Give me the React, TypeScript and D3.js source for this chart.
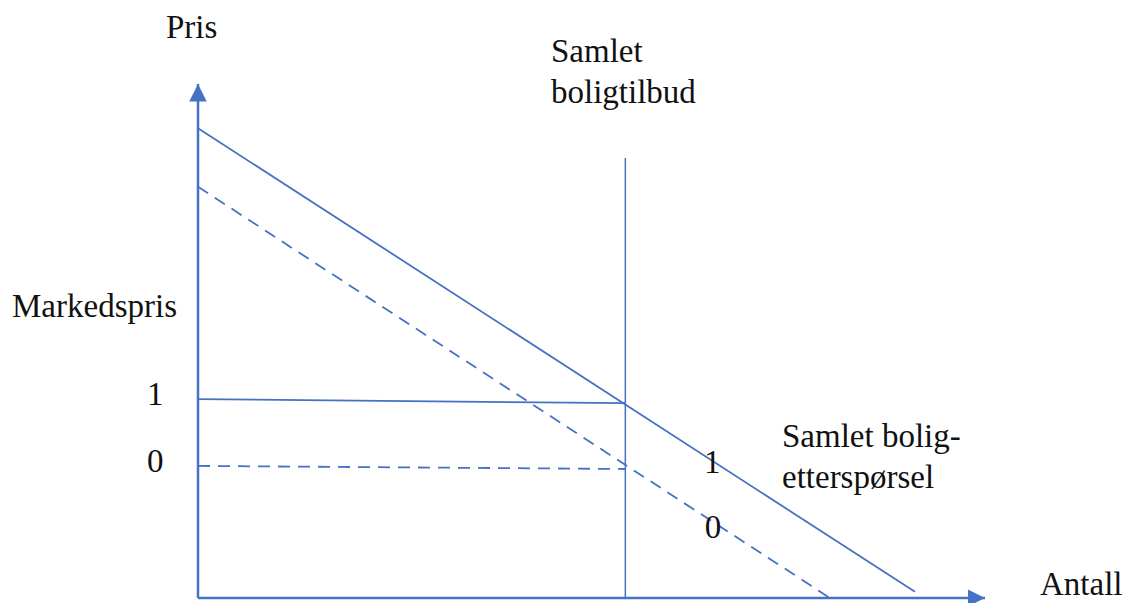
import React from "react";
import * as d3 from "d3";

// Data (abstract units: x 0..100 quantity, y 0..100 price)
const supplyX = 54.3;
const supplyTop = 85.6;
const demand1 = [ { x: 0, y: 91.4 }, { x: 91.1, y: 1.2 } ];
const demand0 = [ { x: 0, y: 80.0 }, { x: 80.3, y: 0 } ];
const price1 = [ { x: 0, y: 38.7 }, { x: 54.3, y: 37.9 } ];
const price0 = [ { x: 0, y: 25.7 }, { x: 54.3, y: 25.1 } ];
const yTickLabels = [ { label: "1", y: 38.7 }, { label: "0", y: 25.7 } ];
const curveLabels = [ { label: "1", x: 64.3, y: 24.3 }, { label: "0", x: 64.4, y: 11.7 } ];

const W = 1125, H = 603;
const x = d3.scaleLinear().domain([0, 100]).range([198, 985]);
const y = d3.scaleLinear().domain([0, 100]).range([598, 84]);
const BLUE = "#4472C4";
const FS = 33;

function T({ x: tx, y: ty, children }: { x: number; y: number; children: React.ReactNode }) {
  return (
    <text x={tx} y={ty} fontFamily="Liberation Serif" fontSize={FS} fill="#111">{children}</text>
  );
}

export default function App() {
  const line = d3.line<{ x: number; y: number }>().x(d => x(d.x)).y(d => y(d.y));
  return (
    <svg width={W} height={H} style={{ position: "absolute", left: 0, top: 0, background: "#fff" }}>
      <defs>
        <marker id="arr" viewBox="0 0 10 10" refX="10" refY="5" markerWidth="7" markerHeight="7" markerUnits="strokeWidth" orient="auto">
          <path d="M0,0 L10,5 L0,10 Z" fill={BLUE} />
        </marker>
      </defs>
      {/* axes */}
      <line x1={x(0)} y1={y(0)} x2={x(0)} y2={y(100)} stroke={BLUE} strokeWidth={2.5} markerEnd="url(#arr)" />
      <line x1={x(0)} y1={y(0)} x2={x(100)} y2={y(0)} stroke={BLUE} strokeWidth={2.5} markerEnd="url(#arr)" />
      {/* supply */}
      <line x1={x(supplyX)} y1={y(0)} x2={x(supplyX)} y2={y(supplyTop)} stroke={BLUE} strokeWidth={1.5} />
      {/* demand */}
      <path d={line(demand1) || ""} stroke={BLUE} strokeWidth={1.8} fill="none" />
      <path d={line(demand0) || ""} stroke={BLUE} strokeWidth={1.8} fill="none" strokeDasharray="12,8" />
      <path d={line(price1) || ""} stroke={BLUE} strokeWidth={1.8} fill="none" />
      <path d={line(price0) || ""} stroke={BLUE} strokeWidth={1.8} fill="none" strokeDasharray="12,8" />
      {/* labels */}
      <T x={166} y={38}>Pris</T>
      <T x={551} y={62}>Samlet</T>
      <T x={551} y={103}>boligtilbud</T>
      <T x={12} y={317}>Markedspris</T>
      {yTickLabels.map(t => (
        <T key={t.label} x={147} y={y(t.y) + 6}>{t.label}</T>
      ))}
      {curveLabels.map(t => (
        <T key={t.label} x={x(t.x)} y={y(t.y)}>{t.label}</T>
      ))}
      <T x={782} y={447}>Samlet bolig-</T>
      <T x={782} y={488}>etterspørsel</T>
      <T x={1040} y={595}>Antall</T>
    </svg>
  );
}
